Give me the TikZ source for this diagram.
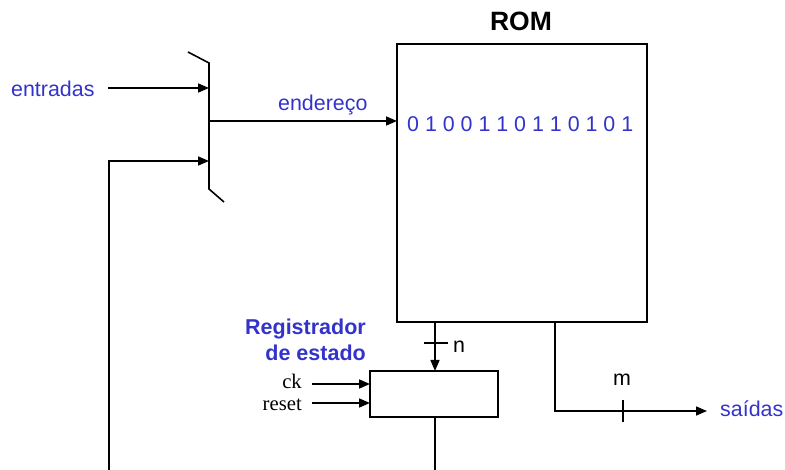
\documentclass[tikz,border=0pt]{standalone}
\usepackage{fontspec}
\setmainfont{Liberation Sans}
\newfontfamily\timesf{Liberation Serif}
\usetikzlibrary{arrows.meta}
\definecolor{lblue}{RGB}{51,51,204}
\begin{document}
\begin{tikzpicture}[x=1pt,y=-1pt,
  wire/.style={line width=1.6pt},
  arr/.style={wire,-{Triangle[length=11pt,width=9pt]}},
  box/.style={draw,line width=1.6pt,inner sep=0pt,outer sep=0pt},
  txt/.style={font=\fontsize{21.4}{25}\selectfont,inner sep=0pt},
  btxt/.style={txt,font=\fontsize{21.5}{25}\selectfont\bfseries},
  stxt/.style={inner sep=0pt,font=\fontsize{20.7}{24}\selectfont\timesf}]
\useasboundingbox (0,0) rectangle (785,470);
% ROM
\node[box,minimum width=250pt,minimum height=278pt,anchor=north west] (rom) at (397,44) {};
\node[btxt,font=\fontsize{26.5}{30}\selectfont\bfseries,anchor=base] (romt) at (521,31) {ROM};
\node[txt,text=lblue,anchor=base west] (bits) at (407,132) {0 1 0 0 1 1 0 1 1 0 1 0 1};
% mux
\coordinate (mt) at (209,63);
\coordinate (mb) at (209,189);
\coordinate (mtl) at (188,52);
\coordinate (mbr) at (224,202);
\draw[wire] (mtl) -- (mt) -- (mb) -- (mbr);
\coordinate (ein) at (108,88);
\coordinate (ea) at (209,88);
\coordinate (fa) at (209,161);
\coordinate (fb) at (109,161);
\coordinate (fbot) at (109,472);
\coordinate (mo) at (209,121);
\node[txt,text=lblue,anchor=base west] (entr) at (11,97) {entradas};
\draw[arr] (ein) -- (ea);
\draw[arr] (fbot) -- (fb) -- (fa);
\draw[arr] (mo) -- (mo -| rom.west);
\node[txt,text=lblue,anchor=base west] (end) at (278,111) {endereço};
% register
\node[box,minimum width=128pt,minimum height=46pt,anchor=north west] (reg) at (370,371) {};
\coordinate (romn) at (435,322);
\draw[arr] (romn) -- (romn |- reg.north);
\coordinate (tn1) at (424,343);
\coordinate (tn2) at (448,343);
\draw[wire] (tn1) -- (tn2);
\node[txt,anchor=base west] (n) at (453,353) {n};
\node[btxt,text=lblue,anchor=base east] (reg1) at (366,335) {Registrador};
\node[btxt,text=lblue,anchor=base east] (reg2) at (366,361) {de estado};
\node[stxt,anchor=base east] (ck) at (302,389) {ck};
\node[stxt,anchor=base east] (rst) at (302,410) {reset};
\coordinate (cka) at (312,384);
\coordinate (rsa) at (312,403);
\draw[arr] (cka) -- (cka -| reg.west);
\draw[arr] (rsa) -- (rsa -| reg.west);
\coordinate (rego) at (435,417);
\coordinate (regb) at (435,472);
\draw[wire] (rego) -- (regb);
% outputs
\coordinate (ro) at (555,322);
\coordinate (rc) at (555,411);
\coordinate (sa) at (707,411);
\draw[arr] (ro) -- (rc) -- (sa);
\coordinate (tm1) at (623,400);
\coordinate (tm2) at (623,422);
\draw[wire] (tm1) -- (tm2);
\node[txt,anchor=base] (m) at (622,386) {m};
\node[txt,text=lblue,anchor=base west] (sai) at (720,417) {saídas};
\end{tikzpicture}
\end{document}
